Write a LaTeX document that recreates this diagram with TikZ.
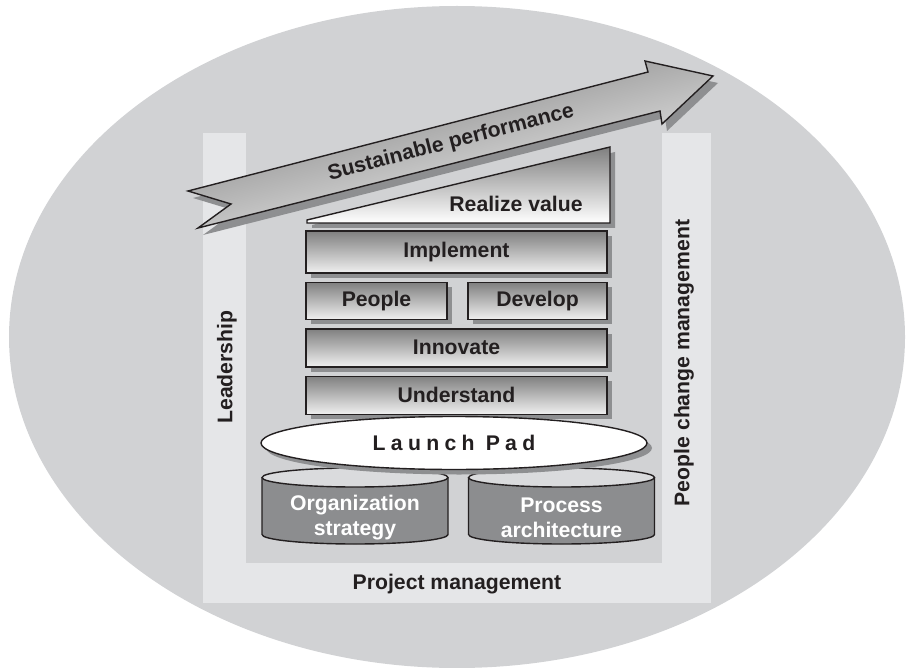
\documentclass[tikz,border=0pt]{standalone}
\usepackage{fontspec}
\setmainfont{Liberation Sans}
\newfontfamily\padfont[LetterSpace=25]{Liberation Sans}
\usetikzlibrary{shapes.geometric,shadows,positioning}

\definecolor{discgray}{HTML}{D1D2D4}
\definecolor{framegray}{HTML}{E5E6E8}
\definecolor{shadowgray}{HTML}{8E8F91}
\definecolor{cylgray}{HTML}{8C8D8F}
\definecolor{cyltop}{HTML}{DADBDD}
\definecolor{inkgray}{HTML}{231F20}

\tikzset{
  lbl/.style={font=\fontsize{10.6}{12.5}\selectfont\bfseries, text=inkgray},
  boxshadow/.style={drop shadow={fill=shadowgray, opacity=1,
      shadow xshift=2.5pt, shadow yshift=-2.5pt}},
  stepbox/.style={lbl, draw=inkgray, line width=0.7pt, top color=black!50,
      bottom color=black!6, inner sep=0pt, boxshadow},
  sidelbl/.style={lbl, rotate=90},
  outline/.style={draw=inkgray, line width=0.7pt},
}

% arrow and wedge outlines, in pixels of the reference
\def\perfarrow{(188,191) -- (648,72) -- (645,61) -- (713,76) -- (662,124)
  -- (660,111) -- (198,228) -- (231,204) -- cycle}
\def\valwedge{(307,220) -- (610,147) -- (610,223) -- (307,223) -- cycle}

\begin{document}
\begin{tikzpicture}[x=0.5pt,y=-0.5pt]
  \useasboundingbox (0,0) rectangle (909,668);
  \fill[discgray] (457,337) ellipse[x radius=448, y radius=331];
  % U-shaped frame
  \fill[framegray] (203,133) rectangle (711,603);
  \fill[discgray] (246,120) rectangle (662,563);
  \node[sidelbl] (leadership) at (227,367) {Leadership};
  \node[sidelbl] (peoplechange) at (684,363) {People change management};
  \node[lbl] (projmgmt) at (457,584) {Project management};

  % realize value wedge
  \fill[shadowgray, xshift=2.5pt, yshift=-2.5pt] \valwedge;
  \shade[outline, top color=black!50, bottom color=white] \valwedge;
  \node[lbl] (realize) at (516,204) {Realize value};

  % sustainable performance arrow
  \fill[shadowgray, xshift=2.5pt, yshift=-3.5pt] \perfarrow;
  \shade[outline, top color=black!55, bottom color=white,
    shading angle=14.5] \perfarrow;
  \node[lbl, rotate=14.5] (sustain) at (451,143) {Sustainable performance};

  % steps
  \node[stepbox, minimum width=150.5pt, minimum height=21pt]
    (implement) at (456.5,252) {Implement};
  \node[stepbox, minimum width=70.5pt, minimum height=18.5pt,
    below right=4pt and 0pt of implement.south west] (people) {People};
  \node[stepbox, minimum width=69.5pt, minimum height=18.5pt,
    below left=4pt and 0pt of implement.south east] (develop) {Develop};
  \node[stepbox, minimum width=150.5pt, minimum height=19pt,
    below right=4pt and 0pt of people.south west] (innovate) {Innovate};
  \node[stepbox, minimum width=150.5pt, minimum height=19pt,
    below=4pt of innovate] (understand) {Understand};

  % cylinders
  \foreach \cx in {355,561.5}{
    \draw[outline, fill=cylgray] (\cx-93,477.5) -- (\cx-93,534.5)
      arc[start angle=180, end angle=0, x radius=93, y radius=9.5]
      -- (\cx+93,477.5);
    \draw[outline, fill=cyltop] (\cx,477.5) ellipse[x radius=93, y radius=9.5];
  }
  \node[lbl, text=white, align=center] (orgstrat) at (355,518)
    {Organization\\strategy};
  \node[lbl, text=white, align=center] (procarch) at (561.5,518)
    {Process\\architecture};

  \node[ellipse, outline, fill=white, minimum width=193pt,
    minimum height=26.5pt, boxshadow,
    font=\fontsize{10.6}{12.5}\padfont\bfseries, text=inkgray]
    (launchpad) at (454,443) {Launch Pad};
\end{tikzpicture}
\end{document}
